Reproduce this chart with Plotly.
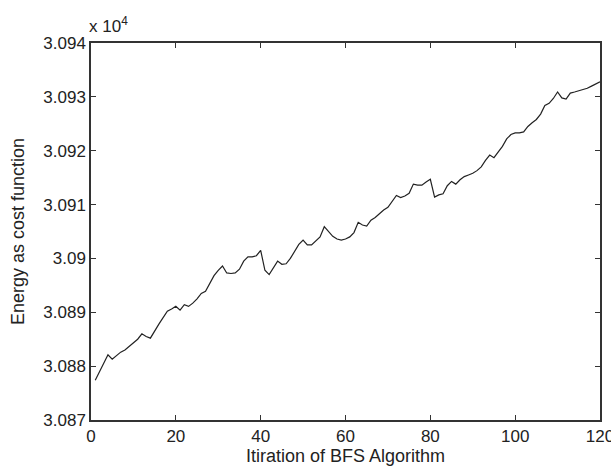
import plotly.graph_objects as go

# Energy values in units of 10^4
iterations = list(range(1, 121))
energy = [
    3.08774, 3.08790, 3.08806, 3.08821, 3.08813, 3.08820, 3.08826, 3.08830, 3.08837, 3.08843,
    3.08850, 3.08860, 3.08855, 3.08852, 3.08866, 3.08878, 3.08890, 3.08902, 3.08906, 3.08911,
    3.08904, 3.08914, 3.08911, 3.08917, 3.08925, 3.08935, 3.08939, 3.08955, 3.08968, 3.08978,
    3.08986, 3.08973, 3.08972, 3.08973, 3.08980, 3.08995, 3.09003, 3.09003, 3.09005, 3.09015,
    3.08978, 3.08970, 3.08982, 3.08995, 3.08989, 3.08990, 3.09000, 3.09014, 3.09026, 3.09034,
    3.09025, 3.09025, 3.09032, 3.09040, 3.09059, 3.09050, 3.09041, 3.09036, 3.09034, 3.09036,
    3.09040, 3.09048, 3.09067, 3.09062, 3.09060, 3.09071, 3.09076, 3.09083, 3.09090, 3.09095,
    3.09106, 3.09117, 3.09113, 3.09116, 3.09121, 3.09138, 3.09136, 3.09136, 3.09142, 3.09147,
    3.09114, 3.09118, 3.09120, 3.09135, 3.09143, 3.09138, 3.09146, 3.09152, 3.09155, 3.09158,
    3.09163, 3.09170, 3.09182, 3.09192, 3.09187, 3.09198, 3.09208, 3.09222, 3.09230, 3.09233,
    3.09233, 3.09235, 3.09245, 3.09252, 3.09258, 3.09268, 3.09284, 3.09288, 3.09297, 3.09309,
    3.09298, 3.09296, 3.09307, 3.09309, 3.09311, 3.09314, 3.09316, 3.09320, 3.09324, 3.09328,
]

y_ticks = [3.087, 3.088, 3.089, 3.090, 3.091, 3.092, 3.093, 3.094]
y_tick_labels = ["3.087", "3.088", "3.089", "3.09", "3.091", "3.092", "3.093", "3.094"]
x_ticks = [0, 20, 40, 60, 80, 100, 120]

FONT = "Liberation Sans Narrow, Arial Narrow, Liberation Sans, Arial, sans-serif"
AXIS_COLOR = "#333333"
TEXT_COLOR = "#222222"

fig = go.Figure(go.Scatter(
    x=iterations,
    y=energy,
    mode="lines",
    line={"color": TEXT_COLOR, "width": 1.2},
    showlegend=False,
))

axis_common = dict(
    showline=True,
    linecolor=AXIS_COLOR,
    linewidth=1.5,
    mirror="ticks",
    ticks="inside",
    ticklen=5,
    tickcolor=AXIS_COLOR,
    showgrid=False,
    zeroline=False,
    automargin=False,
    ticklabeloverflow="allow",
    tickfont={"size": 17, "color": TEXT_COLOR},
)

fig.update_xaxes(
    range=[0, 120],
    tickvals=x_ticks,
    title={"text": "Itiration of BFS Algorithm", "font": {"size": 18, "color": TEXT_COLOR},
           "standoff": 8},
    **axis_common,
)
fig.update_yaxes(
    range=[3.087, 3.094],
    tickvals=y_ticks,
    ticktext=y_tick_labels,
    title={"text": "Energy as cost function", "font": {"size": 18, "color": TEXT_COLOR},
           "standoff": 14},
    **axis_common,
)

fig.add_annotation(
    x=0, y=1, xref="paper", yref="paper",
    xanchor="left", yanchor="bottom", yshift=5, xshift=-4,
    text="x 10<sup>4</sup>", showarrow=False,
    font={"size": 17, "color": TEXT_COLOR, "family": FONT},
)

fig.update_layout(
    width=611,
    height=466,
    margin={"l": 91, "r": 11, "t": 43, "b": 46},
    font={"family": FONT},
    plot_bgcolor="white",
    paper_bgcolor="white",
)

# remove the default page margin so the figure sits at the window's corner
fig.write_html("out.html", config={"displayModeBar": False},
               post_script="document.body.style.margin = '0';")
